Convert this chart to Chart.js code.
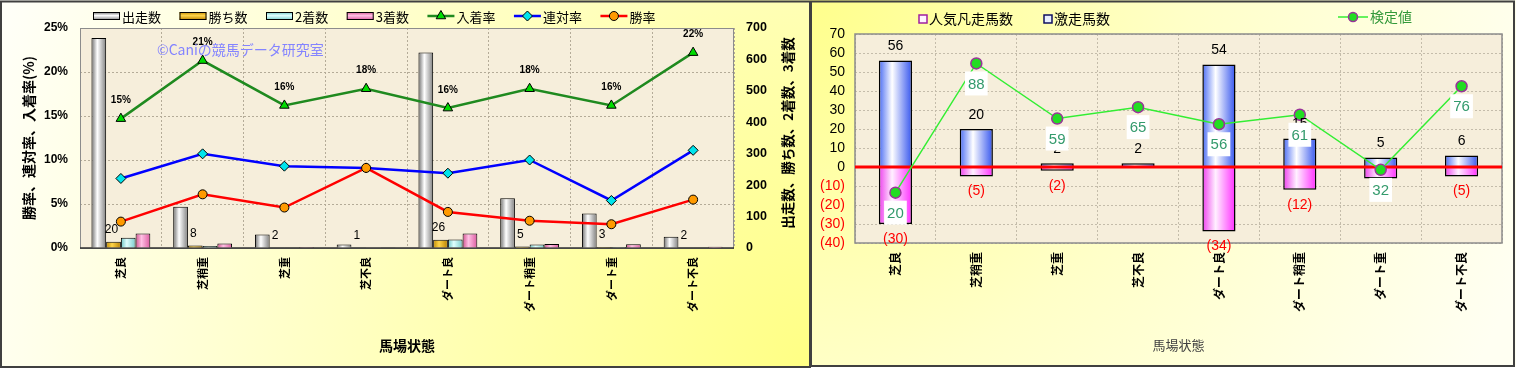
<!DOCTYPE html>
<html><head><meta charset="utf-8">
<script src="https://cdn.jsdelivr.net/npm/chart.js@4.4.1/dist/chart.umd.min.js"></script>
<style>
html,body{margin:0;padding:0;background:#fff;width:1518px;height:369px;overflow:hidden;}
#w1{position:absolute;left:0;top:0;width:811px;height:368px;}
#w2{position:absolute;left:810px;top:0;width:706px;height:367px;}
</style></head><body>
<div id="w1"><canvas id="c1"></canvas></div>
<div id="w2"><canvas id="c2"></canvas></div>
<script>
// ---------- data ----------
const CATEGORIES = ['芝良','芝稍重','芝重','芝不良','ダート良','ダート稍重','ダート重','ダート不良'];
// left chart (counts on right axis, rates on left axis)
const RUNS    = [668, 131, 43, 11, 622, 158, 110, 36];   // 出走数
const WINS    = [20, 8, 2, 1, 26, 5, 3, 2];               // 勝ち数
const SECONDS = [33, 6, 2, 0, 27, 11, 3, 2];              // 2着数
const THIRDS  = [46, 14, 3, 1, 46, 13, 12, 4];            // 3着数
const PLACE_RATE    = [14.7, 21.3, 16.2, 18.1, 15.9, 18.1, 16.2, 22.2]; // 入着率
const QUINELLA_RATE = [7.9, 10.7, 9.3, 9.1, 8.5, 10.0, 5.4, 11.1];      // 連対率
const WIN_RATE      = [3.0, 6.1, 4.6, 9.1, 4.1, 3.1, 2.7, 5.5];         // 勝率
const PCT_TICKS = [0, 5, 10, 15, 20, 25];
const COUNT_TICKS = [0, 100, 200, 300, 400, 500, 600, 700];
// right chart
const FLOP_HORSES = [-30, -5, -2, 0, -34, -12, -6, -5];  // 人気凡走馬数
const HIT_HORSES  = [56, 20, 2, 2, 54, 15, 5, 6];        // 激走馬数
const TEST_VALUES = [20, 88, 59, 65, 56, 61, 32, 76];    // 検定値
const DIFF_TICKS = [-40, -30, -20, -10, 0, 10, 20, 30, 40, 50, 60, 70];

// ---------- helpers ----------
const FONT = "'Liberation Sans', 'Noto Sans CJK JP', sans-serif";
const JFONT = "'Noto Sans CJK JP', 'Liberation Sans', sans-serif";
Chart.defaults.font.family = FONT;
Chart.defaults.color = '#000';
Chart.defaults.animation = false;

function barGradient(colors, slot, nSlots, catPct, barPct) {
  return (c) => {
    const xs = c.chart.scales && c.chart.scales.x;
    if (!xs || c.dataIndex == null || !xs.width) return colors[1];
    const cw = xs.width / CATEGORIES.length;
    const center = xs.getPixelForValue(c.dataIndex);
    const gw = cw * catPct, bw = gw / nSlots;
    const x0 = center - gw / 2 + slot * bw + bw * (1 - barPct) / 2;
    const x1 = x0 + bw * barPct;
    const g = c.chart.ctx.createLinearGradient(x0, 0, x1, 0);
    g.addColorStop(0, colors[0]); g.addColorStop(0.4, colors[1]); g.addColorStop(1, colors[2]);
    return g;
  };
}
const C_RUN = ['#6e6e6e', '#ffffff', '#808080'];
const C_WIN = ['#c08a00', '#ffd54a', '#b88000'];
const C_2ND = ['#6cc4c4', '#e0ffff', '#78cccc'];
const C_3RD = ['#d0508e', '#ffc0e4', '#dc5aa0'];
const C_HIT = ['#4a6cf4', '#ffffff', '#3656ee'];
const C_FLOP = ['#ee40ee', '#fff0ff', '#ff30ff'];

function pointMarker(ctx, style, x, y, r, fill, stroke, lw) {
  ctx.save();
  ctx.fillStyle = fill; ctx.strokeStyle = stroke; ctx.lineWidth = lw;
  Chart.helpers.drawPoint(ctx, {pointStyle: style, radius: r, borderWidth: lw}, x, y);
  ctx.restore();
}

// ---------- left chart ----------
const leftDeco = {
  id: 'leftDeco',
  beforeDraw(chart) {
    const {ctx, width, height, chartArea: a} = chart;
    ctx.save();
    const g = ctx.createRadialGradient(width, height, 0, width, height, 880);
    g.addColorStop(0, '#ffff84'); g.addColorStop(0.55, '#ffffc4'); g.addColorStop(1, '#fffff8');
    ctx.fillStyle = g; ctx.fillRect(0, 0, width, height);
    ctx.fillStyle = '#f6eedb';
    ctx.fillRect(a.left, a.top, a.right - a.left, a.bottom - a.top);
    ctx.restore();
  },
  beforeDatasetsDraw(chart) {
    const {ctx, chartArea: a} = chart;
    ctx.save();
    ctx.strokeStyle = '#8c8c8c'; ctx.lineWidth = 1;
    ctx.strokeRect(a.left + 0.5, a.top + 0.5, a.right - a.left - 1, a.bottom - a.top);
    ctx.strokeStyle = '#303030'; ctx.lineWidth = 1.5;
    ctx.beginPath(); ctx.moveTo(a.left, a.bottom); ctx.lineTo(a.right, a.bottom); ctx.stroke();
    ctx.restore();
  },
  afterDatasetsDraw(chart) {
    const {ctx, chartArea: a, width, height} = chart;
    ctx.save();
    // count labels over win bars
    const winMeta = chart.getDatasetMeta(1);
    ctx.font = '12px ' + FONT; ctx.fillStyle = '#000'; ctx.textAlign = 'center'; ctx.textBaseline = 'middle';
    winMeta.data.forEach((el, i) => ctx.fillText(String(WINS[i]), el.x - 2, el.y - 12));
    // percent labels over place-rate points
    const placeMeta = chart.getDatasetMeta(4);
    ctx.font = 'bold 10px ' + FONT;
    placeMeta.data.forEach((el, i) => ctx.fillText(Math.round(PLACE_RATE[i]) + '%', el.x, el.y - 18));
    // watermark
    ctx.font = '14px ' + JFONT; ctx.fillStyle = '#8484ff'; ctx.textAlign = 'left';
    ctx.fillText('©Caniの競馬データ研究室', 157, 50);
    // right axis title (reads bottom to top)
    ctx.save();
    ctx.translate(788, (a.top + a.bottom) / 2 - 5);
    ctx.rotate(-Math.PI / 2);
    ctx.font = 'bold 13.5px ' + JFONT; ctx.fillStyle = '#000'; ctx.textAlign = 'center';
    ctx.fillText('出走数、勝ち数、2着数、3着数', 0, 0);
    ctx.restore();
    // legend
    let x = 93; const ly = 16;
    ctx.font = '13px ' + JFONT; ctx.textAlign = 'left'; ctx.textBaseline = 'middle';
    chart.data.datasets.forEach((ds) => {
      if (ds.type === 'bar') {
        const g = ctx.createLinearGradient(0, ly - 4, 0, ly + 4);
        g.addColorStop(0, ds.legendColors[0]); g.addColorStop(0.45, ds.legendColors[1]); g.addColorStop(1, ds.legendColors[2]);
        ctx.fillStyle = g; ctx.fillRect(x, ly - 4, 27, 8);
        ctx.strokeStyle = '#000'; ctx.lineWidth = 1; ctx.strokeRect(x + 0.5, ly - 3.5, 26, 7);
      } else {
        ctx.strokeStyle = ds.borderColor; ctx.lineWidth = 2.5;
        ctx.beginPath(); ctx.moveTo(x, ly); ctx.lineTo(x + 27, ly); ctx.stroke();
        pointMarker(ctx, ds.pointStyle, x + 13.5, ly, ds.pointRadius, ds.pointBackgroundColor, '#000', 1);
      }
      ctx.fillStyle = '#000';
      ctx.fillText(ds.label, x + 29, ly + 1);
      x += 29 + ctx.measureText(ds.label).width + 18.5;
    });
    // panel border
    ctx.strokeStyle = '#404040'; ctx.lineWidth = 2;
    ctx.strokeRect(1, 1.5, width - 2, height - 2.5);
    ctx.restore();
  }
};

new Chart(document.getElementById('c1'), {
  data: {
    labels: CATEGORIES,
    datasets: [
      {type: 'bar', label: '出走数', data: RUNS, yAxisID: 'y1', order: 3, legendColors: C_RUN,
       backgroundColor: barGradient(C_RUN, 0, 4, 0.72, 1), borderColor: '#000', borderWidth: 1,
       categoryPercentage: 0.72, barPercentage: 1},
      {type: 'bar', label: '勝ち数', data: WINS, yAxisID: 'y1', order: 3, legendColors: C_WIN,
       backgroundColor: barGradient(C_WIN, 1, 4, 0.72, 1), borderColor: '#000', borderWidth: 1,
       categoryPercentage: 0.72, barPercentage: 1},
      {type: 'bar', label: '2着数', data: SECONDS, yAxisID: 'y1', order: 3, legendColors: C_2ND,
       backgroundColor: barGradient(C_2ND, 2, 4, 0.72, 1), borderColor: '#000', borderWidth: 1,
       categoryPercentage: 0.72, barPercentage: 1},
      {type: 'bar', label: '3着数', data: THIRDS, yAxisID: 'y1', order: 3, legendColors: C_3RD,
       backgroundColor: barGradient(C_3RD, 3, 4, 0.72, 1), borderColor: '#000', borderWidth: 1,
       categoryPercentage: 0.72, barPercentage: 1},
      {type: 'line', label: '入着率', data: PLACE_RATE, yAxisID: 'y', order: 2,
       borderColor: '#1f8a1f', borderWidth: 2.5, tension: 0,
       pointStyle: 'triangle', pointRadius: 5.5, pointBackgroundColor: '#00dc00', pointBorderColor: '#000', pointBorderWidth: 1},
      {type: 'line', label: '連対率', data: QUINELLA_RATE, yAxisID: 'y', order: 1,
       borderColor: '#0000ff', borderWidth: 2.5, tension: 0,
       pointStyle: 'rectRot', pointRadius: 5, pointBackgroundColor: '#00e4ec', pointBorderColor: '#000', pointBorderWidth: 1},
      {type: 'line', label: '勝率', data: WIN_RATE, yAxisID: 'y', order: 0,
       borderColor: '#ff0000', borderWidth: 2.5, tension: 0,
       pointStyle: 'circle', pointRadius: 4.5, pointBackgroundColor: '#ff9a00', pointBorderColor: '#000', pointBorderWidth: 1}
    ]
  },
  options: {
    responsive: true, maintainAspectRatio: false, animation: false,
    layout: {padding: {left: 0, right: 0, top: 28, bottom: 0}},
    plugins: {legend: {display: false}, tooltip: {enabled: false}},
    scales: {
      x: {
        grid: {offset: true, color: '#b4ab98', drawTicks: false},
        border: {display: false, dash: [2, 2]},
        ticks: {autoSkip: false, minRotation: 90, maxRotation: 90, padding: 9,
                font: {size: 11, weight: 'bold', family: JFONT}, color: '#000'},
        title: {display: true, text: '馬場状態', font: {size: 14, weight: 'bold', family: JFONT}, color: '#000',
                padding: {top: 0, bottom: 14}},
        afterFit: (s) => { s.height = 120; }
      },
      y: {
        position: 'left', min: PCT_TICKS[0], max: PCT_TICKS[PCT_TICKS.length - 1],
        afterBuildTicks: (s) => { s.ticks = PCT_TICKS.map(v => ({value: v})); },
        ticks: {autoSkip: false, padding: 12, font: {size: 12, weight: 'bold'}, color: '#000', callback: (v) => v + '%'},
        grid: {color: '#b4ab98', drawTicks: false},
        border: {display: false, dash: [2, 2]},
        title: {display: true, text: '勝率、連対率、入着率(%)', font: {size: 14, weight: 'bold', family: JFONT},
                color: '#000', padding: {top: 20, bottom: 0}},
        afterFit: (s) => { s.width = 80; }
      },
      y1: {
        position: 'right', min: COUNT_TICKS[0], max: COUNT_TICKS[COUNT_TICKS.length - 1],
        afterBuildTicks: (s) => { s.ticks = COUNT_TICKS.map(v => ({value: v})); },
        ticks: {autoSkip: false, padding: 12, font: {size: 12.5, weight: 'bold'}, color: '#000'},
        grid: {drawOnChartArea: false, drawTicks: false},
        border: {display: false},
        afterFit: (s) => { s.width = 77; }
      }
    }
  },
  plugins: [leftDeco]
});

// ---------- right chart ----------
const rightDeco = {
  id: 'rightDeco',
  beforeDraw(chart) {
    const {ctx, width, height, chartArea: a} = chart;
    ctx.save();
    const g = ctx.createRadialGradient(0, 0, 0, 0, 0, 760);
    g.addColorStop(0, '#ffff8c'); g.addColorStop(0.5, '#ffffc8'); g.addColorStop(1, '#fffff2');
    ctx.fillStyle = g; ctx.fillRect(0, 0, width, height);
    ctx.fillStyle = '#f6eedb';
    ctx.fillRect(a.left, a.top, a.right - a.left, a.bottom - a.top);
    ctx.restore();
  },
  beforeDatasetsDraw(chart) {
    const {ctx, chartArea: a} = chart;
    ctx.save();
    ctx.strokeStyle = '#8c8c8c'; ctx.lineWidth = 1.5;
    ctx.strokeRect(a.left, a.top, a.right - a.left, a.bottom - a.top);
    ctx.restore();
  },
  afterDatasetDraw(chart, args) {
    if (args.index !== 0) return;
    const {ctx, chartArea: a} = chart;
    const y0 = chart.scales.y.getPixelForValue(0);
    ctx.save();
    ctx.strokeStyle = '#ff0000'; ctx.lineWidth = 3;
    ctx.beginPath(); ctx.moveTo(a.left, y0); ctx.lineTo(a.right, y0); ctx.stroke();
    ctx.restore();
  },
  afterDatasetsDraw(chart) {
    const {ctx, width, height} = chart;
    ctx.save();
    ctx.font = '14px ' + FONT; ctx.textAlign = 'center'; ctx.textBaseline = 'middle';
    // bar labels
    chart.getDatasetMeta(1).data.forEach((el, i) => {
      if (HIT_HORSES[i] > 0) { ctx.fillStyle = '#000'; ctx.fillText(String(HIT_HORSES[i]), el.x, el.y - 14); }
    });
    chart.getDatasetMeta(0).data.forEach((el, i) => {
      if (FLOP_HORSES[i] < 0) { ctx.fillStyle = '#ff0000'; ctx.fillText('(' + (-FLOP_HORSES[i]) + ')', el.x, el.y + 15); }
    });
    // test value labels with white boxes
    ctx.font = '15px ' + FONT;
    chart.getDatasetMeta(2).data.forEach((el, i) => {
      const t = String(TEST_VALUES[i]);
      const w = ctx.measureText(t).width + 6;
      const cy = el.y + 20;
      ctx.fillStyle = '#ffffff'; ctx.fillRect(el.x - w / 2, cy - 12, w, 24);
      ctx.fillStyle = '#339a6c'; ctx.fillText(t, el.x, cy + 1);
    });
    // legend
    const ly = 19;
    ctx.font = '14px ' + JFONT; ctx.textAlign = 'left';
    const items = [
      {x: 109, ds: chart.data.datasets[0], kind: 'box', stroke: '#a020a0', fill: '#fff4ff'},
      {x: 234, ds: chart.data.datasets[1], kind: 'box', stroke: '#101060', fill: '#e8f0ff'},
      {x: 528, ds: chart.data.datasets[2], kind: 'line'}
    ];
    items.forEach(it => {
      if (it.kind === 'box') {
        ctx.fillStyle = it.fill; ctx.fillRect(it.x, ly - 4, 8, 8);
        ctx.strokeStyle = it.stroke; ctx.lineWidth = 1.5; ctx.strokeRect(it.x, ly - 4, 8, 8);
        ctx.fillStyle = '#000'; ctx.fillText(it.ds.label, it.x + 10, ly);
      } else {
        ctx.strokeStyle = it.ds.borderColor; ctx.lineWidth = 1.5;
        ctx.beginPath(); ctx.moveTo(it.x, ly - 2); ctx.lineTo(it.x + 30, ly - 2); ctx.stroke();
        pointMarker(ctx, 'circle', it.x + 15, ly - 2, 4.5, '#22dd22', '#993399', 1.5);
        ctx.fillStyle = '#33993a'; ctx.fillText(it.ds.label, it.x + 32, ly - 2);
      }
    });
    // panel border
    ctx.strokeStyle = '#404040'; ctx.lineWidth = 2;
    ctx.strokeRect(1, 1.5, width - 3, height - 2.5);
    ctx.restore();
  }
};

new Chart(document.getElementById('c2'), {
  data: {
    labels: CATEGORIES,
    datasets: [
      {type: 'bar', label: '人気凡走馬数', data: FLOP_HORSES, yAxisID: 'y', order: 1, grouped: false,
       backgroundColor: barGradient(C_FLOP, 0, 1, 1, 0.41), borderColor: '#000', borderWidth: 1.5,
       categoryPercentage: 1, barPercentage: 0.41},
      {type: 'bar', label: '激走馬数', data: HIT_HORSES, yAxisID: 'y', order: 2, grouped: false,
       backgroundColor: barGradient(C_HIT, 0, 1, 1, 0.41), borderColor: '#000', borderWidth: 1.5,
       categoryPercentage: 1, barPercentage: 0.41},
      {type: 'line', label: '検定値', data: TEST_VALUES, yAxisID: 'y2', order: 0,
       borderColor: '#33ee33', borderWidth: 1.5, tension: 0,
       pointStyle: 'circle', pointRadius: 5.5, pointBackgroundColor: '#22dd22', pointBorderColor: '#993399', pointBorderWidth: 1.5}
    ]
  },
  options: {
    responsive: true, maintainAspectRatio: false, animation: false,
    layout: {padding: {left: 0, right: 14, top: 34, bottom: 0}},
    plugins: {legend: {display: false}, tooltip: {enabled: false}},
    scales: {
      x: {
        grid: {offset: true, color: '#c4bcaa', drawTicks: false},
        border: {display: false, dash: [2, 2]},
        ticks: {autoSkip: false, minRotation: 90, maxRotation: 90, padding: 9,
                font: {size: 12, weight: 'bold', family: JFONT}, color: '#000'},
        title: {display: true, text: '馬場状態', font: {size: 13, family: JFONT}, color: '#404040',
                padding: {top: 0, bottom: 14}},
        afterFit: (s) => { s.height = 124; }
      },
      y: {
        position: 'left', min: DIFF_TICKS[0], max: DIFF_TICKS[DIFF_TICKS.length - 1],
        afterBuildTicks: (s) => { s.ticks = DIFF_TICKS.map(v => ({value: v})); },
        ticks: {autoSkip: false, padding: 10, font: {size: 14}, color: (c) => (c.tick && c.tick.value < 0 ? '#ff0000' : '#000'),
                callback: (v) => (v < 0 ? '(' + (-v) + ')' : String(v))},
        grid: {color: '#c4bcaa', drawTicks: false},
        border: {display: false, dash: [2, 2]},
        afterFit: (s) => { s.width = 45; }
      },
      y2: {display: false, min: -6.5, max: 103.5}
    }
  },
  plugins: [rightDeco]
});
</script>
</body></html>
